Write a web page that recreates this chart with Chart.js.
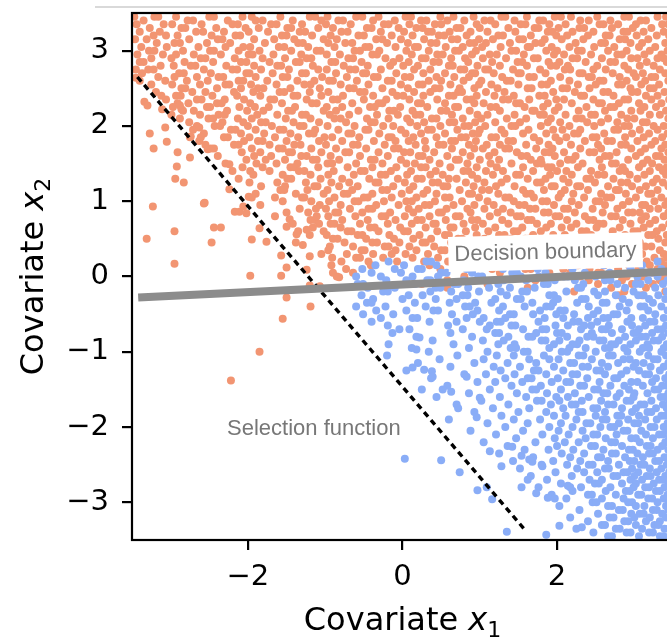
<!DOCTYPE html>
<html><head><meta charset="utf-8">
<script src="https://cdn.jsdelivr.net/npm/chart.js@4"></script>
<style>html,body{margin:0;padding:0;overflow:hidden;background:#fff}#wrap{width:680px;height:639px}</style>
</head><body><div id="wrap"><canvas id="c" width="680" height="639"></canvas></div>
<script>
// ---------- data (read / estimated from the reference picture) ----------
const xTicks = [-2, 0, 2];
const yTicks = [-3, -2, -1, 0, 1, 2, 3];
const xRange = [-3.5, 3.5];
const yRange = [-3.5, 3.5];

// decision boundary (grey) and selection function (dashed)
const boundaryX = [-3.42, 3.5];
const boundaryY = [-0.28, 0.07];
const selectionX = [-3.43, 1.58];
const selectionY = [2.65, -3.36];

const decisionText = 'Decision boundary';
const decisionPos = [1.85, 0.33];
const selectionText = 'Selection function';
const selectionPos = [-2.27, -2.11];

// orange points (label 1), rows: [x2, [x1 ...]]
const orangeRows = [
[3.45,[-3.47,-3.21,-3.16,-2.93,-2.5,-2.44,-2.07,-1.95,-1.58,-1.2,-1.13,-0.97,-0.6,-0.52,-0.31,0.04,0.11,0.49,0.66,0.92,1.28,1.33,1.61,1.97,2.05,2.18,2.52,2.87,2.93,3.3,3.41]],
[3.40,[-3.35,-2.78,-2.71,-2.26,-1.9,-1.81,-1.42,-1.05,-0.83,-0.77,-0.38,-0.1,0.24,0.31,0.58,0.8,1.06,1.14,1.45,1.77,1.82,2.3,2.41,2.69,3.08,3.15]],
[3.35,[-3.44,-3.09,-2.98,-2.6,-2.2,-2.13,-1.7,-1.63,-1.3,-0.99,-0.67,-0.24,-0.18,0.09,0.42,0.5,0.96,1.2,1.53,1.59,1.9,2.11,2.55,2.6,2.79,3.02,3.36,3.44]],
[3.30,[-3.27,-2.86,-2.81,-2.41,-2.03,-1.86,-1.49,-1.44,-1.09,-0.9,-0.46,-0.4,-0.05,0.18,0.26,0.7,0.75,1.0,1.37,1.71,1.76,2.02,2.29,2.35,2.71,2.98,3.22]],
[3.25,[-3.4,-3.14,-2.67,-2.58,-2.31,-1.99,-1.74,-1.33,-1.26,-0.79,-0.71,-0.28,0.02,0.33,0.38,0.61,0.88,1.1,1.46,1.88,1.94,2.2,2.47,2.86,2.91,3.12,3.38]],
[3.20,[-3.22,-3.06,-2.91,-2.47,-2.16,-2.1,-1.56,-1.5,-1.17,-0.93,-0.57,-0.5,-0.14,0.13,0.47,0.54,0.83,1.24,1.3,1.66,1.99,2.13,2.4,2.63,2.68,3.03,3.29,3.45]],
[3.15,[-3.46,-3.31,-2.76,-2.39,-2.33,-1.92,-1.66,-1.4,-1.02,-0.85,-0.34,-0.26,-0.02,0.28,0.64,0.71,0.99,1.17,1.51,1.56,1.84,2.06,2.34,2.81,2.88,3.18]],
[3.10,[-3.18,-2.95,-2.88,-2.53,-2.23,-1.78,-1.35,-1.29,-0.96,-0.74,-0.65,-0.2,0.07,0.37,0.44,0.87,0.93,1.08,1.39,1.72,1.8,2.24,2.57,2.62,2.95,3.1,3.4]],
[3.05,[-3.38,-3.05,-2.64,-2.29,-2.06,-1.97,-1.6,-1.53,-1.22,-0.88,-0.48,-0.43,-0.09,0.16,0.2,0.56,0.78,1.03,1.27,1.62,1.65,1.93,2.16,2.48,2.74,3.06,3.27]],
[3.00,[-3.28,-3.21,-2.84,-2.49,-2.44,-2.12,-1.85,-1.44,-1.11,-1.06,-0.62,-0.55,-0.3,0.05,0.34,0.68,0.73,0.95,1.41,1.47,1.86,2.0,2.27,2.32,2.66,2.9,3.2,3.43]],
[2.95,[-3.43,-3.1,-2.93,-2.7,-2.35,-1.99,-1.94,-1.67,-1.31,-0.98,-0.81,-0.39,-0.33,0.12,0.45,0.52,0.9,1.13,1.22,1.57,1.96,2.09,2.44,2.78,2.84,3.13,3.35]],
[2.90,[-3.25,-2.99,-2.61,-2.55,-2.17,-1.81,-1.52,-1.24,-1.18,-0.7,-0.64,-0.22,-0.04,0.25,0.3,0.63,0.81,1.04,1.34,1.7,1.75,2.2,2.26,2.58,2.96,3.04,3.3,3.38]],
[2.85,[-3.4,-3.35,-2.82,-2.45,-2.09,-2.02,-1.72,-1.38,-1.33,-0.92,-0.87,-0.53,-0.12,0.08,0.4,0.47,0.85,1.16,1.49,1.55,1.89,2.03,2.37,2.69,2.75,3.16,3.42]],
[2.80,[-3.13,-2.96,-2.74,-2.68,-2.28,-1.92,-1.62,-1.57,-1.16,-0.76,-0.45,-0.16,0.01,0.2,0.6,0.65,0.97,1.26,1.61,1.92,1.99,2.14,2.52,2.87,3.07,3.25]],
[2.75,[-3.45,-3.29,-3.22,-2.57,-2.2,-2.14,-1.83,-1.47,-1.09,-0.98,-0.68,-0.61,-0.28,0.15,0.36,0.75,0.8,1.07,1.11,1.43,1.78,2.1,2.17,2.47,2.63,2.92,3.33]],
[2.70,[-3.37,-2.89,-2.83,-2.48,-2.02,-1.98,-1.68,-1.3,-1.25,-0.86,-0.51,-0.47,-0.08,0.27,0.55,0.9,0.94,1.18,1.5,1.53,1.85,2.29,2.33,2.72,2.99,3.11,3.4]],
[2.65,[-3.16,-2.95,-2.66,-2.38,-2.32,-1.9,-1.55,-1.49,-1.04,-0.72,-0.37,-0.32,0.03,0.1,0.44,0.67,0.86,1.29,1.64,1.7,2.04,2.41,2.45,2.81,3.02,3.22,3.27]],
[2.60,[-3.4,-3.07,-2.79,-2.52,-2.12,-2.06,-1.75,-1.36,-1.14,-0.95,-0.9,-0.59,-0.19,-0.14,0.34,0.5,0.79,1.02,1.35,1.4,1.92,2.16,2.55,2.6,2.9,3.14,3.44]],
[2.55,[-3.25,-2.98,-2.62,-2.29,-2.24,-1.96,-1.63,-1.27,-1.19,-0.8,-0.44,-0.02,0.21,0.26,0.62,0.99,1.15,1.5,1.8,1.87,2.27,2.5,2.79,2.84,3.09,3.32]],
[2.50,[-2.86,-2.81,-2.4,-2.09,-1.87,-1.8,-1.45,-1.07,-0.69,-0.63,-0.26,0.07,0.42,0.48,0.74,0.93,1.23,1.62,1.67,2.07,2.13,2.42,2.95,3.2,3.25]],
[2.45,[-3.19,-2.72,-2.55,-2.18,-1.93,-1.59,-1.53,-1.2,-0.96,-0.55,-0.49,-0.13,0.15,0.36,0.72,0.77,1.08,1.32,1.95,2.23,2.6,2.66,2.97,3.04,3.39]],
[2.40,[-3.12,-2.93,-2.87,-2.46,-2.14,-1.84,-1.41,-1.36,-1.05,-0.77,-0.38,-0.07,0.01,0.27,0.6,0.66,0.96,1.19,1.44,1.77,1.84,2.31,2.35,2.73,3.15,3.3]],
[2.35,[-3.06,-2.66,-2.6,-2.3,-2.05,-1.71,-1.66,-1.24,-0.9,-0.84,-0.5,-0.21,0.09,0.45,0.83,0.89,1.3,1.37,1.64,1.99,2.09,2.47,2.87,2.92,3.22,3.45]],
[2.30,[-2.91,-2.77,-2.4,-2.34,-1.97,-1.56,-1.17,-1.11,-0.65,-0.31,-0.26,0.2,0.24,0.55,0.93,1.05,1.47,1.52,1.88,2.19,2.54,2.58,2.8,3.06,3.35]],
[2.25,[-2.97,-2.53,-2.49,-2.11,-1.91,-1.73,-1.39,-0.98,-0.78,-0.42,-0.36,-0.03,0.32,0.68,0.72,1.14,1.21,1.58,1.82,2.02,2.38,2.69,2.74,3.13,3.28]],
[2.20,[-2.84,-2.7,-2.27,-2.01,-1.8,-1.48,-1.43,-1.02,-0.86,-0.57,-0.17,-0.11,0.13,0.5,0.57,0.87,1.26,1.68,1.71,1.97,2.28,2.62,2.96,3.08,3.41]],
[2.15,[-2.99,-2.62,-2.38,-2.3,-1.88,-1.62,-1.3,-1.25,-0.94,-0.69,-0.33,-0.06,0.17,0.23,0.64,0.97,1.1,1.45,1.78,1.83,2.11,2.44,2.49,2.83,3.2,3.33]],
[2.10,[-2.88,-2.51,-2.45,-2.13,-1.95,-1.51,-1.19,-0.88,-0.8,-0.46,-0.18,0.06,0.38,0.44,0.78,1.02,1.35,1.6,1.92,2.25,2.32,2.66,2.91,3.0,3.44]],
[2.05,[-2.76,-2.33,-2.06,-1.83,-1.77,-1.41,-1.08,-0.73,-0.41,-0.36,0.1,0.28,0.61,0.67,0.94,1.2,1.52,1.88,2.04,2.39,2.57,2.78,3.11,3.16]],
[2.00,[-2.66,-2.43,-2.36,-2.0,-1.69,-1.33,-1.28,-0.97,-0.62,-0.25,-0.12,0.19,0.49,0.8,0.86,1.07,1.41,1.46,1.79,2.16,2.48,2.87,2.93,3.25,3.38]],
[1.95,[-2.71,-2.22,-2.16,-1.9,-1.59,-1.54,-1.13,-0.83,-0.48,-0.44,-0.02,0.33,0.38,0.71,1.0,1.28,1.63,1.95,2.07,2.3,2.74,2.79,3.07,3.3]],
[1.90,[-2.57,-2.09,-1.79,-1.45,-1.21,-1.15,-0.7,-0.66,-0.3,0.04,0.24,0.55,0.91,0.98,1.32,1.56,1.86,2.22,2.27,2.61,2.97,3.19,3.43]],
[1.85,[-2.75,-2.31,-2.26,-1.98,-1.65,-1.35,-1.01,-0.91,-0.56,-0.18,-0.14,0.14,0.44,0.76,0.82,1.15,1.21,1.7,1.98,2.12,2.46,2.51,2.88,3.12,3.36]],
[1.80,[-2.63,-2.05,-1.87,-1.81,-1.5,-1.08,-0.78,-0.37,-0.09,0.08,0.29,0.63,0.68,0.95,1.37,1.43,1.77,2.03,2.36,2.65,2.71,3.04,3.27]],
[1.75,[-2.55,-2.18,-2.12,-1.72,-1.4,-1.32,-0.99,-0.64,-0.58,-0.23,0.17,0.47,0.53,0.86,1.09,1.26,1.6,1.89,2.18,2.53,2.83,2.89,3.22,3.4]],
[1.70,[-2.44,-1.95,-1.6,-1.55,-1.18,-0.86,-0.47,-0.11,-0.05,0.3,0.64,0.93,1.04,1.33,1.38,1.73,1.94,2.3,2.57,2.96,3.14,3.35]],
[1.65,[-2.08,-1.84,-1.47,-1.43,-1.05,-0.74,-0.69,-0.31,0.02,0.1,0.41,0.78,1.19,1.48,1.84,1.9,2.09,2.42,2.48,2.77,3.08,3.44]],
[1.60,[-2.39,-1.92,-1.7,-1.31,-1.24,-0.93,-0.55,-0.19,0.21,0.26,0.58,0.88,1.12,1.54,1.61,1.97,2.24,2.62,2.68,3.02,3.28,3.33]],
[1.55,[-2.02,-1.77,-1.52,-1.16,-1.11,-0.82,-0.41,-0.36,-0.02,0.35,0.69,0.73,1.0,1.25,1.66,1.79,2.14,2.2,2.55,2.92,3.17,3.39]],
[1.50,[-2.29,-1.89,-1.63,-1.36,-0.97,-0.91,-0.6,-0.26,0.05,0.16,0.48,0.84,1.14,1.41,1.74,1.8,2.04,2.33,2.71,2.76,3.11,3.23]],
[1.45,[-2.07,-1.81,-1.45,-1.4,-1.09,-0.71,-0.39,-0.08,0.24,0.3,0.62,0.96,1.22,1.56,1.88,1.93,2.27,2.58,2.85,3.06,3.32,3.42]],
[1.40,[-2.2,-1.97,-1.72,-1.34,-1.27,-0.89,-0.54,-0.49,-0.15,0.11,0.43,0.79,0.85,1.08,1.3,1.69,2.0,2.12,2.44,2.81,2.88,3.2,3.37]],
[1.35,[-1.93,-1.55,-1.19,-0.96,-0.63,-0.28,-0.22,0.06,0.36,0.52,0.9,1.17,1.47,1.52,1.91,2.19,2.53,2.61,2.94,3.13,3.41]],
[1.30,[-2.12,-1.49,-1.44,-1.06,-0.78,-0.43,-0.06,0.19,0.25,0.6,0.7,0.97,1.35,1.62,1.85,2.08,2.38,2.43,2.73,3.04,3.29]],
[1.25,[-1.98,-1.62,-1.25,-0.92,-0.69,-0.35,-0.31,0.03,0.39,0.46,0.82,1.06,1.28,1.74,1.79,2.15,2.49,2.83,2.91,3.24,3.37]],
[1.20,[-1.83,-1.52,-1.14,-1.1,-0.82,-0.58,-0.12,0.14,0.53,0.58,0.92,1.21,1.45,1.93,1.97,2.26,2.3,2.66,2.97,3.15,3.44]],
[1.15,[-1.58,-1.53,-1.23,-0.97,-0.65,-0.26,-0.2,0.09,0.32,0.74,1.03,1.12,1.56,1.83,2.1,2.4,2.76,2.8,3.07,3.3]],
[1.10,[-1.9,-1.38,-1.02,-0.76,-0.71,-0.39,-0.01,0.27,0.44,0.86,0.9,1.24,1.6,1.66,2.05,2.21,2.57,2.89,3.18,3.22]],
[1.05,[-1.65,-1.3,-1.27,-0.88,-0.5,-0.45,-0.14,0.18,0.55,0.61,0.99,1.33,1.38,1.7,2.02,2.35,2.64,2.7,3.02,3.35]],
[1.00,[-1.55,-1.18,-0.95,-0.62,-0.57,-0.24,0.05,0.12,0.42,0.77,1.1,1.44,1.81,1.87,2.19,2.5,2.55,2.93,3.26,3.43]],
[0.95,[-1.84,-1.07,-0.8,-0.34,-0.05,0.29,0.35,0.66,0.93,1.18,1.51,1.58,1.96,2.28,2.62,2.85,3.1,3.14,3.4]],
[0.90,[-1.33,-1.12,-0.99,-0.68,-0.44,-0.39,0.08,0.21,0.57,0.84,1.06,1.3,1.65,1.72,2.09,2.14,2.46,2.78,3.2,3.31]],
[0.85,[-1.5,-1.22,-0.87,-0.83,-0.52,-0.16,0.14,0.47,0.51,0.88,1.23,1.4,1.83,1.89,2.23,2.59,2.92,2.98,3.07,3.44]],
[0.80,[-1.65,-0.96,-0.61,-0.27,-0.22,0.03,0.35,0.69,0.74,1.13,1.48,1.53,1.98,2.03,2.36,2.7,2.76,3.15,3.38]],
[0.75,[-1.19,-1.13,-0.78,-0.45,-0.09,0.19,0.25,0.56,0.9,0.97,1.29,1.62,1.67,2.13,2.41,2.47,2.85,3.09,3.27]],
[0.70,[-1.42,-1.08,-0.93,-0.88,-0.55,-0.19,0.12,0.4,0.43,0.79,1.04,1.37,1.74,1.92,2.25,2.54,2.6,2.95,3.2,3.45]],
[0.65,[-1.16,-0.8,-0.42,-0.36,-0.03,0.3,0.62,0.66,0.94,1.2,1.55,1.86,2.06,2.18,2.51,2.81,3.12,3.36]],
[0.60,[-1.35,-1.02,-0.71,-0.66,-0.31,0.02,0.07,0.45,0.82,1.11,1.44,1.49,1.79,2.32,2.38,2.72,2.99,3.04,3.29]],
[0.55,[-1.2,-0.98,-0.58,-0.52,-0.17,0.22,0.55,0.6,0.96,1.25,1.32,1.69,1.95,2.1,2.44,2.88,3.18,3.23,3.42]],
[0.50,[-0.9,-0.84,-0.47,-0.11,0.14,0.37,0.72,0.77,1.06,1.4,1.59,1.63,2.21,2.56,2.62,2.9,3.31]],
[0.45,[-1.38,-0.75,-0.39,-0.33,-0.04,0.26,0.3,0.63,0.91,1.17,1.5,1.88,2.02,2.34,2.68,2.74,3.07,3.4]],
[0.40,[-0.94,-0.64,-0.23,-0.18,0.09,0.41,0.79,0.84,1.28,1.6,1.64,1.94,2.16,2.47,2.8,3.14,3.22]],
[0.35,[-0.96,-0.53,-0.49,-0.09,0.18,0.5,0.55,0.88,1.12,1.36,1.73,1.78,2.09,2.28,2.59,2.95,3.33]],
[0.30,[-1.05,-0.72,-0.38,-0.14,0.04,0.33,0.67,0.99,1.21,1.26,1.57,1.9,2.24,2.52,2.77,2.83,3.1,3.38]],
[0.25,[-0.91,-0.6,-0.55,-0.25,0.13,0.46,0.73,0.78,1.07,1.45,1.83,2.14,2.19,2.64,2.98,3.26,3.43]],
[0.20,[-0.79,-0.44,-0.07,0.28,0.59,0.62,0.95,1.33,1.67,1.71,2.05,2.4,2.46,2.87,3.16,3.35]],
[0.15,[-0.92,-0.41,0.35,1.04,1.38,1.81,2.2,2.27,2.61,2.93,3.2,3.41]],
[0.10,[-0.73,0.49,1.16,1.59,1.66,2.08,2.42,2.79,3.05,3.3]],
[0.05,[-0.64,1.26,1.9,2.17,2.53,2.57,2.95,3.24,3.44]],
[0.00,[-0.85,0.8,1.45,2.3,2.68,2.9,3.12,3.37]],
[-0.05,[0.58,1.72,2.41,2.84,3.05,3.33]],
[-0.10,[0.25,1.1,2.53,2.97,3.24]],
[-0.15,[0.58,1.62,2.7,3.15]],
[-0.20,[2.22,2.87,3.4]],
[-0.25,[2.8,3.1]]
];

// orange points outside the selected area, read one by one: [x1, x2]
const orangeStray = [
[-3.45,2.64],[-3.34,2.32],[-3.3,2.27],[-3.27,1.9],[-3.22,1.7],[-3.07,1.98],[-3.05,1.79],[-2.91,1.65],
[-2.92,1.46],[-2.94,1.3],[-2.83,1.25],[-3.11,2.22],[-2.74,1.86],[-2.61,1.85],[-2.63,1.98],[-2.52,1.69],
[-2.48,1.7],[-2.24,1.16],[-3.23,0.93],[-3.31,0.5],[-2.95,0.6],[-2.95,0.17],[-2.57,0.97],[-2.44,0.65],
[-2.35,0.65],[-2.47,0.45],[-2.75,1.58],[-2.56,0.98],[-2.24,1.49],[-2.17,0.86],[-2.11,0.86],[-2.06,0.93],
[-2.02,0.84],[-1.99,1.06],[-1.95,1.05],[-1.85,0.64],[-1.95,0.49],[-1.76,0.46],[-1.97,0.01],[-1.57,0.28],
[-1.57,0.01],[-1.5,0.12],[-1.5,-0.28],[-1.55,-0.56],[-1.19,-0.4],[-1.85,-1.0],[-2.22,-1.38],[-1.2,-0.12],
[-1.5,0.66],[-1.46,0.76],[-1.37,0.56],[-1.29,0.42],[-1.24,0.62],[-1.2,0.27],[-1.11,0.8],[-1.24,0.09],
[-0.9,0.05],[-0.82,-0.01],[-1.07,-0.13],[-2.86,2.22],[-2.88,2.27]
];

// blue points (label 0), rows: [x2, [x1 ...]]
const blueRows = [
[0.20,[-0.18,0.31,0.37,1.42,2.05,3.3]],
[0.15,[-0.35,0.02,0.44,0.71,1.15,2.6,3.1]],
[0.10,[-0.52,-0.1,0.2,0.25,0.83,1.3,1.75,2.2,2.95,3.35]],
[0.05,[-0.4,-0.02,0.5,0.57,0.9,1.42,1.48,1.85,2.36,2.68,3.22]],
[0.00,[-0.6,-0.28,0.13,0.46,0.98,1.03,1.53,1.76,2.09,2.14,2.5,3.04,3.3]],
[-0.05,[-0.21,0.05,0.32,0.36,0.79,1.31,1.6,1.97,2.23,2.62,2.69,3.18,3.43]],
[-0.10,[-0.58,-0.51,0.16,0.67,0.72,1.24,1.83,1.88,2.34,2.78,3.02,3.08,3.37]],
[-0.15,[-0.45,-0.1,0.43,0.49,0.85,1.12,1.39,1.71,2.27,2.31,2.88,3.27]],
[-0.20,[-0.25,-0.19,0.36,0.63,0.99,1.27,1.55,1.61,2.12,2.48,2.62,2.99,3.42]],
[-0.25,[-0.53,0.08,0.26,0.78,0.84,1.35,1.9,1.96,2.53,2.76,3.05,3.12,3.31]],
[-0.30,[-0.38,0.0,0.43,0.7,1.2,1.48,1.53,2.01,2.32,2.37,2.85,3.19,3.4]],
[-0.35,[-0.46,-0.4,0.16,0.61,0.94,1.15,1.68,1.95,2.26,2.59,2.64,2.93,3.24]],
[-0.40,[-0.6,-0.22,0.3,0.81,0.87,1.3,1.58,1.86,1.92,2.41,2.81,3.08,3.13,3.35]],
[-0.45,[-0.34,0.05,0.4,0.46,0.97,1.25,1.78,2.04,2.1,2.53,2.9,3.18,3.43]],
[-0.50,[-0.51,-0.12,0.64,0.91,1.39,1.44,1.69,1.99,2.22,2.47,2.73,2.78,3.27]],
[-0.55,[-0.28,0.13,0.19,0.83,1.05,1.33,1.84,2.08,2.4,2.6,2.66,2.96,3.11,3.38]],
[-0.60,[-0.4,0.35,0.7,1.0,1.22,1.27,1.76,2.21,2.28,2.52,2.91,3.2,3.26]],
[-0.65,[-0.19,0.59,1.13,1.41,1.46,1.98,2.14,2.35,2.44,2.67,2.97,3.14,3.41]],
[-0.70,[0.09,0.78,1.09,1.56,1.81,1.86,2.31,2.58,2.63,2.84,3.06,3.3,3.36]],
[-0.75,[-0.13,0.62,1.2,1.25,1.73,2.0,2.06,2.45,2.71,2.99,3.03,3.23,3.44]],
[-0.80,[0.18,0.9,1.37,1.63,1.68,2.13,2.39,2.47,2.88,3.09,3.15,3.36]],
[-0.85,[0.39,1.04,1.31,1.8,1.85,2.03,2.29,2.55,2.6,2.8,3.02,3.25,3.31]],
[-0.90,[-0.18,0.66,1.24,1.45,1.96,2.2,2.26,2.7,2.75,2.95,3.17,3.42]],
[-0.95,[0.12,0.86,1.4,1.47,1.9,2.16,2.37,2.62,2.68,2.87,3.11,3.19,3.38]],
[-1.00,[0.34,1.1,1.57,1.62,2.06,2.13,2.5,2.91,3.07,3.35]],
[-1.05,[-0.2,0.71,1.22,1.44,1.83,2.28,2.34,2.67,2.72,3.18,3.41]],
[-1.10,[0.48,1.05,1.64,1.9,2.02,2.45,2.86,2.94,3.25,3.3]],
[-1.15,[0.2,0.93,1.36,1.73,2.17,2.22,2.58,2.79,3.02,3.12,3.44]],
[-1.20,[0.62,1.18,1.52,1.96,2.33,2.4,2.66,2.99,3.21,3.38]],
[-1.25,[0.05,1.27,1.7,1.76,2.08,2.51,2.56,2.9,3.06,3.33]],
[-1.30,[0.8,1.08,1.45,1.86,2.2,2.26,2.62,2.83,3.14,3.19,3.45]],
[-1.35,[0.37,1.33,1.62,1.67,2.01,2.39,2.74,2.78,3.28,3.4]],
[-1.40,[0.97,1.2,1.55,1.93,2.12,2.17,2.55,2.96,3.04,3.23]],
[-1.45,[0.58,1.41,1.79,2.3,2.35,2.69,2.87,3.11,3.36,3.42]],
[-1.50,[0.25,1.13,1.68,1.73,2.05,2.48,2.53,2.93,3.26,3.31]],
[-1.55,[0.86,1.48,1.87,2.23,2.6,2.65,2.81,3.0,3.17,3.44]],
[-1.60,[0.44,1.26,1.6,1.99,2.14,2.41,2.77,2.99,3.34,3.39]],
[-1.65,[1.02,1.74,1.8,2.03,2.32,2.57,2.9,2.95,3.22,3.45]],
[-1.70,[0.7,1.37,1.92,2.19,2.24,2.66,2.73,3.08,3.13,3.37]],
[-1.75,[1.17,1.64,2.08,2.47,2.52,2.84,3.02,3.28,3.42]],
[-1.80,[0.93,1.5,1.86,2.28,2.33,2.62,2.97,3.17,3.22,3.45]],
[-1.85,[1.28,1.96,2.11,2.5,2.78,2.83,3.06,3.35,3.4]],
[-1.90,[0.6,1.44,1.78,2.25,2.59,2.64,2.92,3.14,3.29]],
[-1.95,[1.1,1.62,2.05,2.38,2.43,2.8,3.0,3.05,3.43]],
[-2.00,[1.33,1.9,2.2,2.56,2.69,2.74,3.21,3.26,3.38]],
[-2.05,[0.88,1.56,2.02,2.33,2.86,2.91,3.09,3.44]],
[-2.10,[1.21,1.81,2.15,2.47,2.52,2.77,3.15,3.32,3.37]],
[-2.15,[1.47,1.97,2.37,2.63,2.96,3.02,3.24,3.45]],
[-2.20,[1.05,1.72,2.1,2.28,2.7,2.75,3.07,3.4]],
[-2.25,[1.36,2.0,2.44,2.49,2.84,3.16,3.21,3.36]],
[-2.30,[1.58,1.89,2.21,2.6,2.93,2.98,3.3,3.44]],
[-2.35,[1.25,2.06,2.35,2.71,2.76,3.04,3.19,3.24]],
[-2.40,[1.69,2.17,2.53,2.57,2.88,3.11,3.39,3.44]],
[-2.45,[1.43,1.95,2.3,2.66,2.94,3.0,3.27,3.32]],
[-2.50,[1.8,2.13,2.41,2.46,2.8,3.08,3.13,3.42]],
[-2.55,[1.52,2.26,2.62,2.67,2.97,3.2,3.35]],
[-2.60,[1.98,2.35,2.52,2.86,2.91,3.05,3.29,3.45]],
[-2.65,[1.66,2.19,2.73,2.78,3.0,3.16,3.21,3.4]],
[-2.70,[1.87,2.42,2.58,2.95,3.1,3.32,3.37]],
[-2.75,[2.05,2.49,2.54,2.84,3.02,3.25,3.44]],
[-2.80,[1.76,2.31,2.69,2.99,3.14,3.19,3.39]],
[-2.85,[2.2,2.63,2.89,2.94,3.28,3.33]],
[-2.90,[1.93,2.4,2.45,2.76,3.05,3.09,3.43]],
[-2.95,[2.12,2.58,2.86,3.18,3.23,3.38]],
[-3.00,[2.46,2.51,2.92,2.97,3.3,3.45]],
[-3.05,[2.03,2.66,2.71,3.02,3.13,3.41]],
[-3.10,[2.29,2.8,2.85,3.24,3.29,3.44]],
[-3.15,[2.53,2.96,3.07,3.12,3.36]],
[-3.20,[2.17,2.68,2.73,3.0,3.2,3.41]],
[-3.25,[2.4,2.87,2.92,3.15,3.33]],
[-3.30,[2.58,2.62,3.02,3.26,3.31]],
[-3.35,[2.25,2.76,2.81,3.1,3.39,3.44]],
[-3.40,[2.47,2.9,2.95,3.19,3.24]],
[-3.45,[2.66,2.71,3.06,3.33,3.38]]
];

// blue points outside / at the edge of the selected area: [x1, x2]
const blueStray = [
[0.03,-2.42],[0.5,-2.44],[0.74,-2.6],[0.97,-2.84],[1.09,-2.8],[1.16,-2.96],[1.35,-3.39],[1.13,-2.32],
[1.28,-2.52],[1.62,-2.7],[1.54,-2.8],[1.73,-2.88],[1.88,-2.94],[1.97,-2.95],[2.03,-3.31],[1.86,-3.43],
[2.32,-3.33],[1.81,-2.52],[2.14,-2.78],[2.17,-2.8],[1.64,-2.43],[1.68,-2.46],[1.54,-2.38],[1.42,-2.26],
[0.72,-1.75],[0.96,-1.87],[0.13,-1.21],[0.22,-0.81],[0.28,-1.24],[0.38,-1.26],[0.39,-1.33],[0.18,-0.97],
[-0.04,-0.7],[0.52,-1.5],[0.63,-1.53],[0.83,-1.33],[1.0,-1.61]
];

// ---------- styling ----------
const ORANGE = '#F29572';
const BLUE = '#8AADF7';
const GREY = '#8c8c8c';
const TEXT_GREY = '#777777';
const DOT_R = 4;

function rowsToPoints(rows, stray) {
  const pts = [];
  rows.forEach(([y, xs]) => xs.forEach(x => pts.push({x, y})));
  stray.forEach(([x, y]) => pts.push({x, y}));
  return pts;
}
const fmt = v => (v < 0 ? '\u2212' + Math.abs(v) : String(v));
const noPad = s => { s.paddingTop = 0; s.paddingBottom = 0; s.paddingLeft = 0; s.paddingRight = 0; };

const overlay = {
  id: 'overlay',
  beforeDraw(chart) {
    const c = chart.ctx;
    c.save(); c.fillStyle = '#fff'; c.fillRect(0, 0, chart.width, chart.height); c.restore();
  },
  afterDatasetsDraw(chart) {
    const {ctx, scales: {x, y}} = chart;
    ctx.save();
    ctx.translate(x.getPixelForValue(decisionPos[0]), y.getPixelForValue(decisionPos[1]));
    ctx.rotate(-1.4 * Math.PI / 180);
    ctx.font = '22px "Liberation Sans"';
    const w = ctx.measureText(decisionText).width;
    ctx.fillStyle = '#ffffff';
    ctx.fillRect(-w / 2 - 6, -17, w + 12, 35);
    ctx.fillStyle = TEXT_GREY;
    ctx.textAlign = 'center';
    ctx.textBaseline = 'middle';
    ctx.fillText(decisionText, 0, 1);
    ctx.restore();
    ctx.save();
    ctx.font = '22px "Liberation Sans"';
    ctx.fillStyle = TEXT_GREY;
    ctx.textAlign = 'left';
    ctx.textBaseline = 'alphabetic';
    ctx.fillText(selectionText, x.getPixelForValue(selectionPos[0]), y.getPixelForValue(selectionPos[1]));
    ctx.restore();
  },
  afterDraw(chart) {
    const {ctx, chartArea: a} = chart;
    ctx.save();
    ctx.strokeStyle = '#cccccc'; ctx.lineWidth = 1.5;
    ctx.beginPath(); ctx.moveTo(95, 7); ctx.lineTo(chart.width, 7); ctx.stroke();
    ctx.strokeStyle = '#000'; ctx.lineWidth = 2.2; ctx.lineCap = 'square';
    ctx.strokeRect(a.left, a.top, a.right - a.left, a.bottom - a.top);
    const parts = (sub) => [
      {t: 'Covariate ', f: '32px "DejaVu Sans"', dy: 0},
      {t: 'x', f: 'italic 32px "DejaVu Sans"', dy: 0},
      {t: sub, f: '22px "DejaVu Sans"', dy: 7}
    ];
    const drawTitle = (ps, cx, base) => {
      let total = 0;
      ps.forEach(p => { ctx.font = p.f; p.w = ctx.measureText(p.t).width; total += p.w; });
      let xx = cx - total / 2;
      ctx.fillStyle = '#000'; ctx.textAlign = 'left'; ctx.textBaseline = 'alphabetic';
      ps.forEach(p => { ctx.font = p.f; ctx.fillText(p.t, xx, base + p.dy); xx += p.w; });
    };
    drawTitle(parts('1'), (a.left + a.right) / 2, 630);
    ctx.save();
    ctx.translate(43, (a.top + a.bottom) / 2);
    ctx.rotate(-Math.PI / 2);
    drawTitle(parts('2'), 0, 0);
    ctx.restore();
    ctx.restore();
  }
};

const tickFont = {family: "'DejaVu Sans'", size: 29};

new Chart(document.getElementById('c'), {
  type: 'scatter',
  data: {
    datasets: [
      {label: 'boundary', data: boundaryX.map((v, i) => ({x: v, y: boundaryY[i]})), showLine: true,
       borderColor: GREY, borderWidth: 8, pointRadius: 0, borderCapStyle: 'butt', order: 0, clip: 0},
      {label: 'selection', data: selectionX.map((v, i) => ({x: v, y: selectionY[i]})), showLine: true,
       borderColor: '#000', borderWidth: 3.4, borderDash: [6, 4.5], borderCapStyle: 'butt',
       pointRadius: 0, order: 1, clip: 0},
      {label: 'blue', data: rowsToPoints(blueRows, blueStray), backgroundColor: BLUE, borderWidth: 0,
       pointRadius: DOT_R, order: 2, clip: 0},
      {label: 'orange', data: rowsToPoints(orangeRows, orangeStray), backgroundColor: ORANGE, borderWidth: 0,
       pointRadius: DOT_R, order: 3, clip: 0}
    ]
  },
  options: {
    responsive: false,
    animation: false,
    devicePixelRatio: 1,
    layout: {padding: {top: 13, right: 7, left: 0, bottom: 0}},
    plugins: {legend: {display: false}, tooltip: {enabled: false}},
    scales: {
      x: {
        type: 'linear', min: xRange[0], max: xRange[1],
        afterBuildTicks: s => { s.ticks = xTicks.map(v => ({value: v})); },
        afterFit: s => { s.height = 99; noPad(s); },
        grid: {drawOnChartArea: false, drawTicks: true, tickLength: 10, color: '#000', lineWidth: 2.2},
        border: {display: false},
        ticks: {font: tickFont, color: '#000', padding: 10, maxRotation: 0, callback: v => fmt(v)}
      },
      y: {
        type: 'linear', min: yRange[0], max: yRange[1],
        afterBuildTicks: s => { s.ticks = yTicks.map(v => ({value: v})); },
        afterFit: s => { s.width = 132; noPad(s); },
        grid: {drawOnChartArea: false, drawTicks: true, tickLength: 10, color: '#000', lineWidth: 2.2},
        border: {display: false},
        ticks: {font: tickFont, color: '#000', padding: 13, callback: v => fmt(v)}
      }
    }
  },
  plugins: [overlay]
});
</script>
</body></html>
